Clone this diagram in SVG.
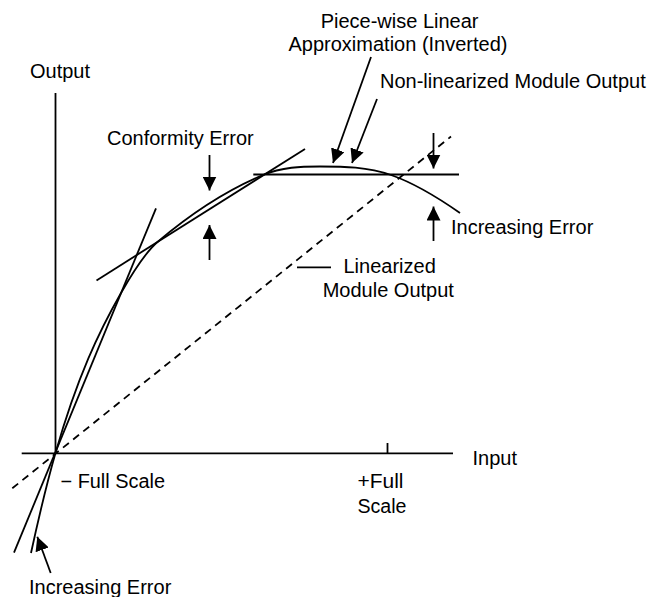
<svg xmlns="http://www.w3.org/2000/svg" width="651" height="597" viewBox="0 0 651 597">
<style>
.ln{stroke:#000;stroke-width:1.8;fill:none}
.dash{stroke:#000;stroke-width:1.8;fill:none;stroke-dasharray:7.5 5.5}
.arr{stroke:#000;stroke-width:1.8;fill:none;marker-end:url(#ah)}
text{font-family:"Liberation Sans",Arial,Helvetica,sans-serif;font-size:19.5px;fill:#000}
</style>
<defs>
<marker id="ah" markerUnits="userSpaceOnUse" markerWidth="14" markerHeight="14" refX="14" refY="7" orient="auto">
<path d="M0,0 L14,7 L0,14 Z" fill="#000"/>
</marker>
</defs>
<rect width="651" height="597" fill="#fff"/>
<g id="axes">
<line class="ln" x1="55.5" y1="93" x2="55.5" y2="453.3"/>
<line class="ln" x1="21.7" y1="453.3" x2="453" y2="453.3"/>
<line class="ln" x1="387.5" y1="443" x2="387.5" y2="453.3"/>
</g>
<g id="linearized-output">
<line class="dash" x1="12.3" y1="488.3" x2="451" y2="136.5"/>
</g>
<g id="piecewise-approximation">
<line class="ln" x1="14" y1="552.7" x2="156" y2="208.3"/>
<line class="ln" x1="96.5" y1="280.4" x2="305" y2="149"/>
<line class="ln" x1="253.3" y1="174.5" x2="459" y2="174.5"/>
</g>
<g id="nonlinearized-output">
<path class="ln" d="M31,553 C39.17,515.43 47.33,481.58 55.5,453 C77.33,376.58 99.17,331.21 121,293 C133.17,271.71 145.33,252.34 157.5,242 C192.67,212.11 227.83,189.77 263,175 C282,167.02 301,166.5 320,166.5 C343.67,166.5 367.33,166.72 391,175 C414,183.05 437,196.9 460,213"/>
</g>
<g id="connectors">
<line class="arr" x1="371" y1="57" x2="333" y2="163"/>
<line class="arr" x1="377" y1="99" x2="352" y2="163"/>
<line class="arr" x1="209.5" y1="155" x2="209.5" y2="190.5"/>
<line class="arr" x1="209.5" y1="260" x2="209.5" y2="225"/>
<line class="arr" x1="433.5" y1="133" x2="433.5" y2="168.5"/>
<line class="arr" x1="433.5" y1="241" x2="433.5" y2="206.5"/>
<line class="arr" x1="50.7" y1="573" x2="37.3" y2="536.7"/>
<line class="ln" x1="297" y1="267.3" x2="331" y2="267.3"/>
</g>
<g id="labels">
<text x="320.7" y="27.5" textLength="157.8" lengthAdjust="spacingAndGlyphs">Piece-wise Linear</text>
<text x="288.5" y="51" textLength="219" lengthAdjust="spacingAndGlyphs">Approximation (Inverted)</text>
<text x="30" y="78" textLength="60" lengthAdjust="spacingAndGlyphs">Output</text>
<text x="380" y="87.5" textLength="265.7" lengthAdjust="spacingAndGlyphs">Non-linearized Module Output</text>
<text x="107" y="145" textLength="146.7" lengthAdjust="spacingAndGlyphs">Conformity Error</text>
<text x="451" y="234" textLength="142.3" lengthAdjust="spacingAndGlyphs">Increasing Error</text>
<text x="343.5" y="272.7" textLength="92.3" lengthAdjust="spacingAndGlyphs">Linearized</text>
<text x="322.7" y="297" textLength="131.2" lengthAdjust="spacingAndGlyphs">Module Output</text>
<text x="472.5" y="465" textLength="44.5" lengthAdjust="spacingAndGlyphs">Input</text>
<text x="60.5" y="488.3" textLength="104.5" lengthAdjust="spacingAndGlyphs">− Full Scale</text>
<text x="357.5" y="488.3" textLength="46" lengthAdjust="spacingAndGlyphs">+Full</text>
<text x="357.5" y="512.5" textLength="49" lengthAdjust="spacingAndGlyphs">Scale</text>
<text x="29" y="594" textLength="142.3" lengthAdjust="spacingAndGlyphs">Increasing Error</text>
</g>
</svg>
